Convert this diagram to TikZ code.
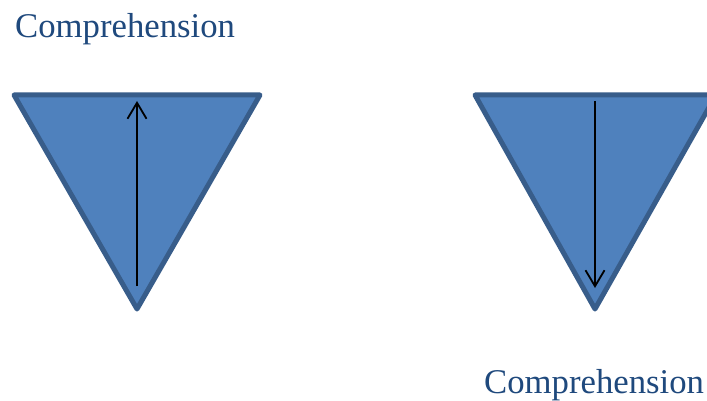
\documentclass[tikz,border=0pt]{standalone}
\usepackage{fontspec}
\setmainfont{Liberation Serif}
\usepackage{xcolor}
\usetikzlibrary{arrows.meta}
\definecolor{triFill}{HTML}{4F81BD}
\definecolor{triEdge}{HTML}{385D8A}
\definecolor{labText}{HTML}{1F497D}

\begin{document}
\begin{tikzpicture}[
  x=1pt, y=-1pt,
  tri/.style={fill=triFill, draw=triEdge, line width=5pt, line join=round},
  ar/.style={-{Straight Barb[length=16pt,width=19pt]}, line width=1.8pt, black},
  lab/.style={anchor=base west, inner sep=0pt, text=labText, font=\fontsize{34.7}{40}\selectfont}
]
\clip (0,0) rectangle (707,401);
\fill[white] (0,0) rectangle (707,401);
% left triangle
\coordinate (LA) at (14,95);
\coordinate (LB) at (260,95);
\coordinate (LC) at (137,309);
\draw[tri] (LA) -- (LB) -- (LC) -- cycle;
\coordinate (LS) at (137,286);
\coordinate (LE) at (137,101);
\draw[ar] (LS) -- (LE);
% right triangle
\coordinate (RA) at (475,95);
\coordinate (RB) at (716,95);
\coordinate (RC) at (595,309);
\draw[tri] (RA) -- (RB) -- (RC) -- cycle;
\coordinate (RS) at (595,101);
\coordinate (RE) at (595,288);
\draw[ar] (RS) -- (RE);
% labels
\node[lab] (top) at (15,38) {Comprehension};
\node[lab] (bot) at (484,393) {Comprehension};
\end{tikzpicture}
\end{document}
